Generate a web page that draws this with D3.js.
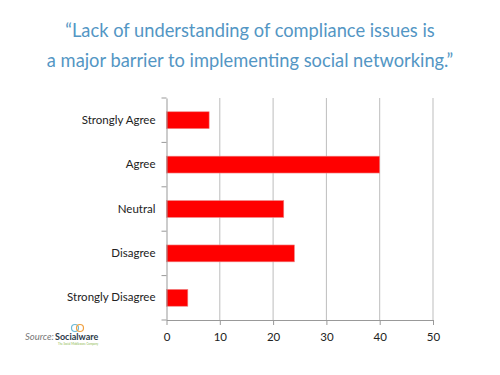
<!DOCTYPE html>
<html lang="en">

<head>
  <meta charset="UTF-8">
  <title>Compliance survey</title>
  <script src="https://cdn.jsdelivr.net/npm/d3@7.6.1/dist/d3.min.js"></script>
  <style>
    body { margin: 0; background: #fff; }
    svg { display: block; }
  </style>
</head>

<body>
  <div id="chart"></div>
  <script>
    const width = 500
    const height = 375

    const categories = ['Strongly Agree', 'Agree', 'Neutral', 'Disagree', 'Strongly Disagree']
    const values = [8, 40, 22, 24, 4]
    const tickValues = [0, 10, 20, 30, 40, 50]
    const titleLines = ['\u201cLack of understanding of compliance issues is', 'a major barrier to implementing social networking.\u201d']

    const margin = { left: 166.5, right: 67, top: 98, bottom: 55 }
    const font = 'Lato, "Open Sans", sans-serif'

    const svg = d3.select('#chart').append('svg')
      .attr('width', width)
      .attr('height', height)

    const x = d3.scaleLinear().domain([0, 50]).range([margin.left, width - margin.right])
    const y = d3.scaleBand().domain(categories).range([margin.top, height - margin.bottom]).paddingInner(0.62).paddingOuter(0.31)

    // title
    svg.selectAll('text.title').data(titleLines)
      .enter().append('text')
      .attr('class', 'title')
      .attr('x', 250)
      .attr('y', (d, i) => 37 + i * 30)
      .attr('text-anchor', 'middle')
      .attr('fill', '#5396c4')
      .attr('font-family', font)
      .attr('font-size', 18.3)
      .text(d => d)

    // gridlines
    svg.selectAll('line.grid').data(tickValues.slice(1))
      .enter().append('line')
      .attr('class', 'grid')
      .attr('x1', d => x(d)).attr('x2', d => x(d))
      .attr('y1', margin.top).attr('y2', height - margin.bottom)
      .attr('stroke', '#bdbdbd')
      .attr('stroke-width', 1)

    // bars
    svg.selectAll('rect.bar').data(values)
      .enter().append('rect')
      .attr('class', 'bar')
      .attr('x', x(0))
      .attr('y', (d, i) => y(categories[i]))
      .attr('width', d => x(d) - x(0))
      .attr('height', y.bandwidth())
      .attr('fill', '#ff0000')
      .attr('stroke', '#e88')
      .attr('stroke-width', 0.6)

    // x axis
    const xAxis = svg.append('g')
      .attr('transform', `translate(0,${height - margin.bottom})`)
      .call(d3.axisBottom(x).tickValues(tickValues).tickSize(5).tickSizeOuter(0))
    xAxis.select('.domain').attr('stroke', '#999')
    xAxis.selectAll('.tick line').attr('stroke', '#999')
    xAxis.selectAll('.tick text')
      .attr('font-family', font).attr('font-size', 11.5).attr('fill', '#222').attr('dy', '1.1em')

    // y axis with ticks between categories
    const yAxis = svg.append('g')
      .attr('transform', `translate(${x(0)},0)`)
      .call(d3.axisLeft(y).tickSize(0).tickPadding(11))
    yAxis.select('.domain').attr('stroke', '#999')
    yAxis.selectAll('.tick text')
      .attr('font-family', font).attr('font-size', 11.5).attr('fill', '#222')
    const step = y.step()
    const sepY = d3.range(categories.length + 1).map(i => margin.top + i * step)
    svg.selectAll('line.ysep').data(sepY)
      .enter().append('line')
      .attr('class', 'ysep')
      .attr('x1', x(0) - 5).attr('x2', x(0))
      .attr('y1', d => d).attr('y2', d => d)
      .attr('stroke', '#999')

    // source
    const src = svg.append('g').attr('transform', 'translate(25,340)')
    src.append('text')
      .attr('font-family', font).attr('font-size', 9.5).attr('font-style', 'italic').attr('fill', '#777')
      .text('Source:')
    src.append('text')
      .attr('x', 30)
      .attr('font-family', font).attr('font-size', 9).attr('font-weight', 'bold').attr('fill', '#2a3a4a')
      .text('Socialware')
    src.append('text')
      .attr('x', 33).attr('y', 5)
      .attr('font-family', font).attr('font-size', 2.8).attr('fill', '#8bb84a')
      .text('The Social Middleware Company')
    src.append('circle').attr('cx', 50).attr('cy', -12).attr('r', 3.5)
      .attr('fill', 'none').attr('stroke', '#6bbad8').attr('stroke-width', 1.2)
    src.append('circle').attr('cx', 55).attr('cy', -12).attr('r', 3.5)
      .attr('fill', 'none').attr('stroke', '#f0a040').attr('stroke-width', 1.2)
  </script>
</body>

</html>
